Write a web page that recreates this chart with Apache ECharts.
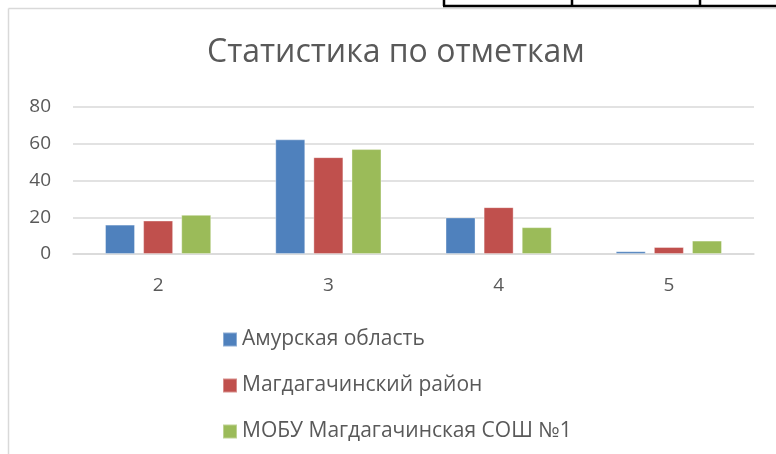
<!DOCTYPE html>
<html>
<head>
<meta charset="utf-8">
<script src="https://cdn.jsdelivr.net/npm/echarts@6/dist/echarts.min.js"></script>
<style>
  html, body { margin: 0; padding: 0; background: #fff; }
  #chart { width: 776px; height: 454px; }
</style>
</head>
<body>
<div id="chart"></div>
<script>
// данные
let marks = ["2", "3", "4", "5"];
let seriesNames = ["Амурская область", "Магдагачинский район", "МОБУ Магдагачинская СОШ №1"];
let amur = [16, 62.4, 19.9, 1.5];
let rayon = [18.2, 52.7, 25.5, 3.8];
let school = [21.3, 57.1, 14.6, 7.3];
let yTicks = [0, 20, 40, 60, 80];

let colors = ["#4F81BD", "#C0504D", "#9BBB59"];
let font = "Open Sans";

let chart = echarts.init(document.getElementById("chart"));

function legendItem(name, top) {
  return {
    orient: "vertical",
    left: 217,
    top: top,
    itemWidth: 14,
    itemHeight: 14,
    itemGap: 0,
    icon: "rect",
    textStyle: { color: "#595959", fontSize: 21, fontFamily: font },
    data: [name]
  };
}

let option = {
  animation: false,
  color: colors,
  title: {
    text: "Статистика по отметкам",
    left: 202,
    top: 32,
    textStyle: { color: "#595959", fontSize: 32, fontWeight: "normal", fontFamily: font }
  },
  legend: [
    legendItem(seriesNames[0], 324),
    legendItem(seriesNames[1], 370),
    legendItem(seriesNames[2], 416)
  ],
  grid: { left: 73, right: 22, top: 107, bottom: 200 },
  xAxis: {
    type: "category",
    data: marks,
    axisLine: { lineStyle: { color: "#D9D9D9", width: 1.5 } },
    axisTick: { show: false },
    axisLabel: { color: "#595959", fontSize: 19, fontFamily: font, margin: 22 }
  },
  yAxis: {
    type: "value",
    min: yTicks[0],
    max: yTicks[yTicks.length - 1],
    interval: 20,
    axisLine: { show: false },
    axisTick: { show: false },
    splitLine: { lineStyle: { color: "#D9D9D9", width: 1.5 } },
    axisLabel: { color: "#595959", fontSize: 19, fontFamily: font, margin: 22 }
  },
  series: [amur, rayon, school].map((d, i) => ({
    name: seriesNames[i],
    type: "bar",
    data: d,
    barWidth: 30,
    barGap: "27%",
    itemStyle: { borderColor: "rgba(255,255,255,0.35)", borderWidth: 1 }
  })),
  graphic: [
    // рамка диаграммы
    { type: "line", shape: { x1: 8.5, y1: 8.5, x2: 776, y2: 8.5 }, style: { stroke: "#D9D9D9", lineWidth: 1.5 } },
    { type: "line", shape: { x1: 8.5, y1: 8.5, x2: 8.5, y2: 454 }, style: { stroke: "#D9D9D9", lineWidth: 1.5 } },
    // край таблицы сверху
    { type: "line", shape: { x1: 443, y1: 6, x2: 776, y2: 6 }, style: { stroke: "#000", lineWidth: 2.5 } },
    { type: "line", shape: { x1: 444, y1: 0, x2: 444, y2: 6 }, style: { stroke: "#000", lineWidth: 2.5 } },
    { type: "line", shape: { x1: 572, y1: 0, x2: 572, y2: 6 }, style: { stroke: "#000", lineWidth: 2.5 } },
    { type: "line", shape: { x1: 700, y1: 0, x2: 700, y2: 6 }, style: { stroke: "#000", lineWidth: 2.5 } }
  ]
};

chart.setOption(option, true);
</script>
</body>
</html>
